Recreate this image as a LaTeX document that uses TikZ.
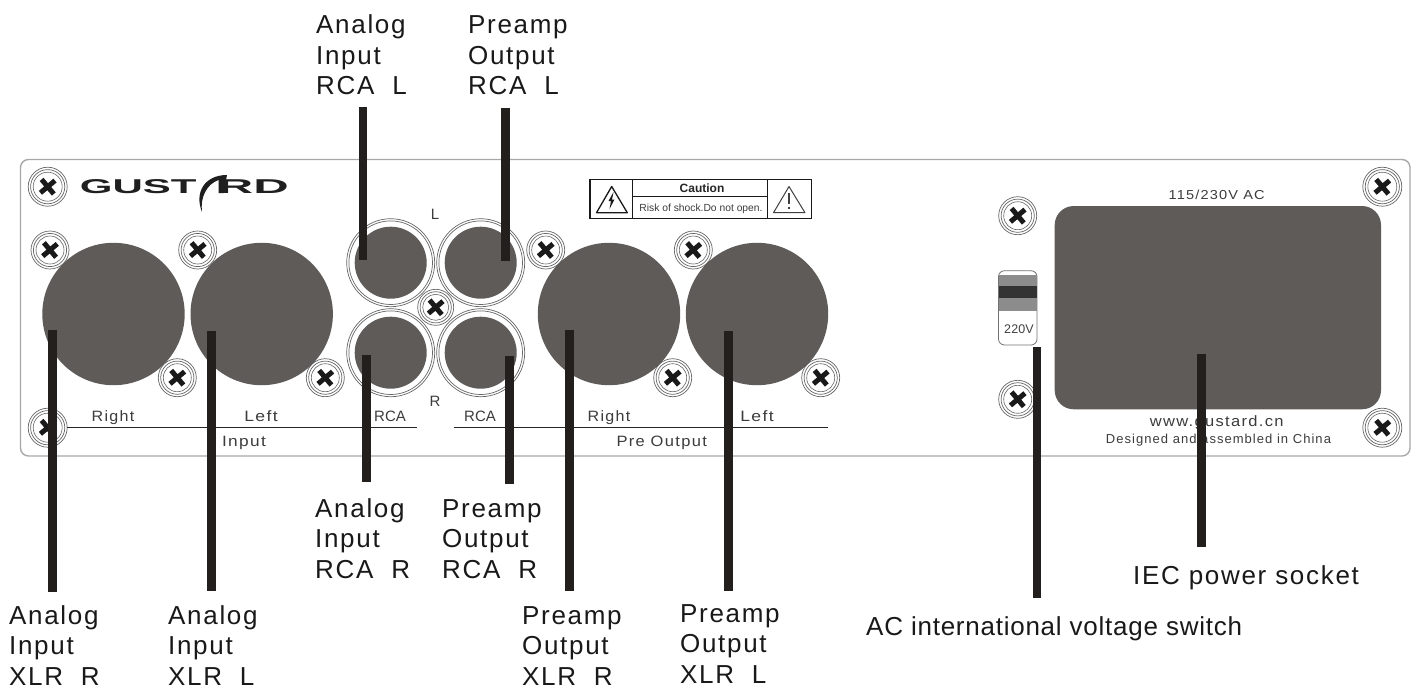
\documentclass[tikz,border=0pt]{standalone}
\usepackage{fontspec}
\setmainfont{Liberation Sans}
\newfontfamily\labelfont{Liberation Sans}[LetterSpace=6.5]
\newfontfamily\longfont{Liberation Sans}[LetterSpace=2.9]
\newfontfamily\panelfont{Liberation Sans}[LetterSpace=8]
\newfontfamily\tightfont{Liberation Sans}[LetterSpace=1]
\definecolor{sockgrey}{HTML}{5F5B59}
\definecolor{leadblack}{HTML}{231F1C}
\definecolor{edgegrey}{HTML}{A8A8A8}
\definecolor{ptext}{HTML}{3C3C3C}
\tikzset{
  lead/.style={draw=leadblack,line width=8.5pt},
  bigsocket/.style={fill=sockgrey},
  ringline/.style={draw=black!60,line width=0.7pt,fill=white},
  calllabel/.style={anchor=base west,inner sep=0pt,align=left,text=black!90,font=\labelfont\fontsize{26}{30.5}\selectfont},
  panellabel/.style={anchor=base,inner sep=0pt,text=ptext,font=\panelfont\fontsize{15}{15}\selectfont},
  smalllabel/.style={anchor=base,inner sep=0pt,text=ptext,font=\panelfont\fontsize{13}{14}\selectfont},
  logotext/.style={anchor=base west,inner sep=0pt,text=black!88,font=\bfseries\fontsize{20}{20}\selectfont},
  panelrule/.style={draw=black!85,line width=1.4pt},
  warnline/.style={draw=black!90,line width=1.3pt},
}
\begin{document}
\begin{tikzpicture}[x=1pt,y=-1pt]
\useasboundingbox (0,0) rectangle (1418,689);
\fill[white] (0,0) rectangle (1418,689);
% panel
\draw[draw=edgegrey,line width=1.4pt,rounded corners=8pt] (20.5,159.5) rectangle (1410,456);
% screws
\foreach \x/\y/\r in {47.7/186.7/19.5,50/250/19,197.7/250/19,177.3/377.7/19,325.3/377.7/19,47.7/427.7/19.5,
  435.7/307.3/18,545.7/250/19,693.3/250/19,672.7/377.7/19,820.7/377.7/19,
  1017.7/215.7/19,1017.7/399.3/19,1382.3/186.7/19.5,1382.3/427.7/19.5}{
  \draw[ringline] (\x,\y) circle ({\r pt});
  \draw[ringline] (\x,\y) circle ({\r pt-2.4pt});
  \draw[draw=black!60,line width=0.6pt] (\x,\y) circle ({\r pt-5pt});
  \begin{scope}[shift={(\x,\y)},rotate=40]
    \draw[draw=black!90,line width=5pt] (-9.5pt,0pt) -- (9.5pt,0pt) (0pt,-9.5pt) -- (0pt,9.5pt);
  \end{scope}
}
% XLR sockets
\foreach \x in {113.5,261.7,609,757}{
  \fill[bigsocket] (\x,314) circle (71.2pt);
}
% RCA sockets
\foreach \x/\y in {390.7/262.7,390.7/352.7,480.7/262.7,480.7/352.7}{
  \draw[ringline] (\x,\y) circle (44pt);
  \draw[ringline] (\x,\y) circle (41.8pt);
  \fill[bigsocket] (\x,\y) circle (36pt);
}
% IEC socket
\fill[bigsocket,rounded corners=19pt] (1054.7,206) rectangle (1381,409.3);
% voltage switch
\draw[draw=black!55,line width=0.8pt,fill=white,rounded corners=6pt] (998.5,270.7) rectangle (1037,345);
\fill[black!45] (999,275) rectangle (1036.6,286);
\fill[black!80] (999,286) rectangle (1036.6,298.3);
\fill[black!45] (999,298.3) rectangle (1036.6,311);
\node[smalllabel,font=\tightfont\fontsize{12.5}{14}\selectfont,text=black!75] (sw) at (1019,333.3) {220V};
% logo
\node[logotext,xscale=2.1] (logoa) at (79.5,193) {GUST};
\node[logotext,xscale=2.45] (logob) at (217.5,193) {RD};
\fill[black!88] (202,212) .. controls (194,192) and (205,175) .. (227,175) -- (223.5,193) -- (218.5,193) -- (218.5,180) .. controls (207,184) and (200,197) .. (202,212) -- cycle;
% caution plate
\draw[warnline] (590,179.3) rectangle (811.7,218.7);
\draw[warnline] (632.7,179.3) -- (632.7,218.7) (767.3,179.3) -- (767.3,218.7) (632.7,196.7) -- (767.3,196.7);
\draw[warnline,line join=round] (611.7,186.5) -- (596.5,212.7) -- (627.3,212.7) -- cycle;
\fill[black!90] (613.5,192) -- (608.5,201) -- (611,201) -- (609.5,209) -- (614.5,199.5) -- (612,199.5) -- cycle;
\draw[warnline,draw=black!75,line width=1pt,line join=round] (789,186.5) -- (773.5,212.7) -- (805,212.7) -- cycle;
\draw[draw=black!75,line width=1.1pt] (789,193) -- (789,204) (789,206.5) -- (789,208.5);
\node[anchor=center,inner sep=0pt,font=\bfseries\fontsize{12}{12}\selectfont,text=black!85] (cau) at (702,188.5) {Caution};
\node[anchor=center,inner sep=0pt,font=\fontsize{10.3}{11}\selectfont,text=ptext] (risk) at (701,208.5) {Risk of shock.Do not open.};
% panel rules
\coordinate (ra) at (66.7,427.3); \coordinate (rb) at (416.7,427.3);
\coordinate (rc) at (453.7,427.3); \coordinate (rd) at (828,427.3);
\draw[panelrule] (ra) -- (rb);
\draw[panelrule] (rc) -- (rd);
% panel texts
\node[panellabel,xscale=1.07] (t1) at (113,421) {Right};
\node[panellabel,xscale=1.17] (t2) at (261,421) {Left};
\node[panellabel,font=\fontsize{15}{15}\selectfont] (t3) at (390,421) {RCA};
\node[panellabel,xscale=1.15] (t4) at (244,446) {Input};
\node[panellabel] (t5) at (435,219) {L};
\node[panellabel] (t6) at (435,406.7) {R};
\node[panellabel,font=\fontsize{15}{15}\selectfont] (t7) at (480,421) {RCA};
\node[panellabel,xscale=1.07] (t8) at (609,421) {Right};
\node[panellabel,xscale=1.17] (t9) at (757,421) {Left};
\node[panellabel,xscale=1.1] (t10) at (661.7,446) {Pre Output};
\node[smalllabel,xscale=1.12] (t11) at (1216.7,199) {115/230V AC};
\node[panellabel,xscale=1.1] (t12) at (1216.7,426.7) {www.gustard.cn};
\node[smalllabel] (t13) at (1218.5,443.3) {Designed and assembled in China};
% connectors
\foreach \n/\xa/\ya/\xb/\yb in {
  a/363/107/363/260, b/505.7/108/505.7/261, c/366.7/355/366.7/482.3, d/509.7/356/509.7/483.7,
  e/52.7/330/52.7/592, f/211.7/331/211.7/591, g/569.3/330/569.3/591, h/728.3/331/728.3/591,
  i/1037/347/1037/598, j/1201.3/354/1201.3/547}{
  \coordinate (\n1) at (\xa,\ya);
  \coordinate (\n2) at (\xb,\yb);
  \draw[lead] (\n1) -- (\n2);
}
% callouts
\node[calllabel] (la) at (316,94.5) {Analog\\Input\\RCA\ \ L};
\node[calllabel] (lb) at (468,94.5) {Preamp\\Output\\RCA\ \ L};
\node[calllabel] (lc) at (315,578) {Analog\\Input\\RCA\ \ R};
\node[calllabel] (ld) at (442,578) {Preamp\\Output\\RCA\ \ R};
\node[calllabel] (le) at (9,685) {Analog\\Input\\XLR\ \ R};
\node[calllabel] (lf) at (168,685) {Analog\\Input\\XLR\ \ L};
\node[calllabel] (lg) at (522,685) {Preamp\\Output\\XLR\ \ R};
\node[calllabel] (lh) at (680,683) {Preamp\\Output\\XLR\ \ L};
\node[calllabel,font=\longfont\fontsize{26}{30.5}\selectfont] (li) at (866,635) {AC international voltage switch};
\node[calllabel] (lj) at (1133,584) {IEC power socket};
\end{tikzpicture}
\end{document}
